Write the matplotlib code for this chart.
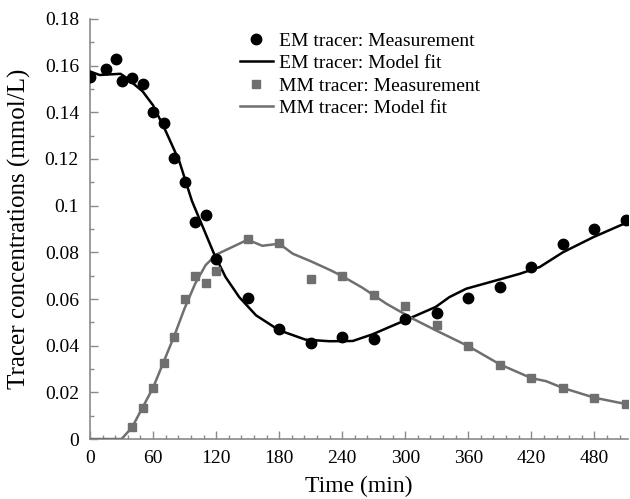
import numpy as np
import matplotlib
matplotlib.use("Agg")
import matplotlib.pyplot as plt
from matplotlib.ticker import MultipleLocator

plt.rcParams['font.family'] = ['Liberation Serif', 'DejaVu Serif']

# EM tracer measurements
t_em = [0, 15, 25, 30, 40, 50, 60, 70, 80, 90, 100, 110, 120, 150, 180, 210,
        240, 270, 300, 330, 360, 390, 420, 450, 480, 510]
c_em = [0.1553, 0.1585, 0.1629, 0.1534, 0.1546, 0.1520, 0.1400, 0.1353, 0.1203,
        0.1100, 0.0929, 0.0958, 0.0770, 0.0606, 0.0470, 0.0412, 0.0439, 0.0429,
        0.0516, 0.0540, 0.0606, 0.0651, 0.0737, 0.0837, 0.0900, 0.0938]

# EM tracer model fit
t_em_fit = [0, 9, 29, 34, 50, 60, 72, 85, 97, 118, 129, 142, 158, 180, 205,
            228, 250, 269, 300, 329, 342, 358, 390, 409, 428, 450, 479, 510]
c_em_fit = [0.1575, 0.1560, 0.1565, 0.1550, 0.1490, 0.1430, 0.1320, 0.1190,
            0.1020, 0.0794, 0.0694, 0.0608, 0.0530, 0.0466, 0.0426, 0.0419,
            0.0420, 0.0449, 0.0509, 0.0566, 0.0608, 0.0644, 0.0684, 0.0708,
            0.0737, 0.0800, 0.0865, 0.0926]

# MM tracer measurements
t_mm = [40, 50, 60, 70, 80, 90, 100, 110, 120, 150, 180, 210, 240, 270, 300,
        330, 360, 390, 420, 450, 480, 510]
c_mm = [0.0050, 0.0133, 0.0219, 0.0324, 0.0437, 0.0599, 0.0697, 0.0668, 0.0718,
        0.0857, 0.0841, 0.0685, 0.0698, 0.0616, 0.0570, 0.0490, 0.0398, 0.0319,
        0.0261, 0.0219, 0.0177, 0.0150]

# MM tracer model fit
t_mm_fit = [0, 30, 40, 60, 80, 90, 100, 110, 120, 135, 150, 164, 180, 193, 210,
            229, 240, 259, 270, 282, 307, 329, 360, 390, 420, 434, 450, 480, 510]
c_mm_fit = [0.0, 0.0, 0.0050, 0.0220, 0.0440, 0.0560, 0.0665, 0.0745, 0.0790,
            0.0822, 0.0854, 0.0828, 0.0837, 0.0794, 0.0762, 0.0723, 0.0698,
            0.0649, 0.0616, 0.0580, 0.0516, 0.0466, 0.0398, 0.0320, 0.0261,
            0.0248, 0.0219, 0.0177, 0.0150]

gray = '#6f6f6f'
axis_gray = '#8a8a8a'

fig = plt.figure(figsize=(6.3, 4.99), dpi=100)
ax = fig.add_axes([0.1429, 0.1202, 0.8539, 0.8418])

ax.plot(t_em, c_em, 'o', color='black', markersize=7.5, label='EM tracer: Measurement', zorder=4)
ax.plot(t_em_fit, c_em_fit, '-', color='black', lw=1.8, label='EM tracer: Model fit', zorder=3)
ax.plot(t_mm, c_mm, 's', color=gray, markersize=5.5, label='MM tracer: Measurement', zorder=4)
ax.plot(t_mm_fit, c_mm_fit, '-', color=gray, lw=1.8, label='MM tracer: Model fit', zorder=3)

ax.set_xlim(0, 512)
ax.set_ylim(0, 0.18)
ax.xaxis.set_major_locator(MultipleLocator(60))
ax.xaxis.set_minor_locator(MultipleLocator(12))
ax.yaxis.set_major_locator(MultipleLocator(0.02))
ax.yaxis.set_minor_locator(MultipleLocator(0.01))
ax.set_yticks(np.arange(0, 0.181, 0.02))
ax.set_yticklabels(['0', '0.02', '0.04', '0.06', '0.08', '0.1', '0.12', '0.14', '0.16', '0.18'])

for s in ['top', 'right']:
    ax.spines[s].set_visible(False)
for s in ['left', 'bottom']:
    ax.spines[s].set_color(axis_gray)
    ax.spines[s].set_linewidth(1.2)
ax.tick_params(which='both', direction='in', color=axis_gray, labelsize=14, width=1)
ax.tick_params(which='major', length=6, pad=8)
ax.tick_params(which='minor', length=3)

ax.set_xlabel('Time (min)', fontsize=17, labelpad=6)
ax.set_ylabel('Tracer concentrations (mmol/L)', fontsize=18, labelpad=10)

ax.legend(loc='upper left', bbox_to_anchor=(0.365, 0.955), bbox_transform=fig.transFigure,
          frameon=False, fontsize=14, handlelength=1.7, handletextpad=0.3,
          labelspacing=0.25, borderpad=0)

fig.savefig('out.png', dpi=100)
